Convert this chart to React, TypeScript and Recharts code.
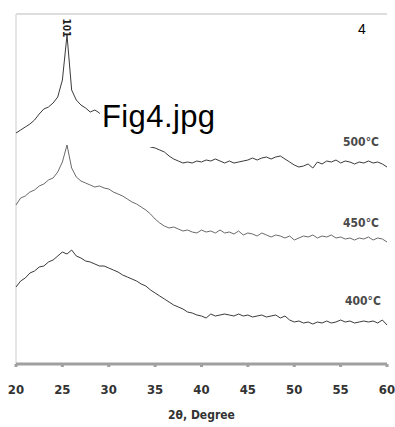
import React from "react";
import { LineChart, Line, XAxis, YAxis, ReferenceLine, ReferenceDot } from "recharts";

// 2θ positions, 20° to 60° in 0.5° steps
const twoTheta: number[] = [];
for (let i = 0; i <= 80; i++) twoTheta.push(20 + i * 0.5);

// intensities (a.u.)
const i500 = [
  231, 234, 237, 240, 244, 250, 255, 257, 261, 267,
  284, 329, 274, 264, 259, 256, 252, 254, 251, 246,
  242, 238, 234, 231, 228, 225, 223, 221, 219, 217,
  216, 214, 212, 208, 205, 203, 201, 202, 201, 203,
  202, 204, 203, 205, 203, 201, 203, 201, 202, 203,
  204, 206, 204, 206, 207, 205, 207, 208, 205, 202,
  199, 197, 198, 200, 196, 202, 200, 203, 202, 204,
  201, 203, 202, 200, 202, 201, 203, 201, 202, 200, 197,
];
const i450 = [
  159, 166, 168, 172, 174, 178, 180, 184, 186, 192,
  202, 219, 196, 187, 183, 181, 179, 177, 178, 176,
  175, 172, 170, 168, 165, 162, 160, 157, 154, 150,
  145, 141, 138, 136, 137, 135, 133, 134, 132, 131,
  134, 132, 133, 131, 134, 131, 132, 130, 133, 129,
  131, 130, 128, 131, 129, 127, 129, 128, 126, 128,
  124, 126, 128, 127, 129, 126, 128, 127, 129, 126,
  127, 125, 126, 124, 126, 125, 127, 124, 126, 125, 122,
];
const i400 = [
  77, 83, 86, 91, 93, 97, 98, 102, 104, 108,
  112, 110, 114, 108, 106, 103, 102, 100, 98, 98,
  96, 94, 92, 89, 87, 85, 83, 80, 78, 74,
  71, 68, 65, 62, 59, 57, 55, 52, 51, 49,
  48, 46, 50, 48, 49, 50, 49, 48, 50, 48,
  49, 47, 48, 49, 47, 48, 49, 46, 48, 44,
  42, 43, 41, 42, 40, 42, 41, 43, 41, 42,
  44, 42, 43, 41, 42, 43, 42, 43, 41, 44, 39,
];
const xTicks = [20, 25, 30, 35, 40, 45, 50, 55, 60];
const seriesLabels = ["500°C", "450°C", "400°C"];

const data = twoTheta.map((t, i) => ({ t, a: i500[i], b: i450[i], c: i400[i] }));

const tickFont = { fontFamily: "'DejaVu Sans Condensed', 'DejaVu Sans', sans-serif", fontWeight: 700 };

const TempLabel = (props: any) => {
  const { viewBox, value } = props;
  return (
    <text x={viewBox.x} y={viewBox.y} fontSize={12} fill="#4a4a4a" textAnchor="middle" style={tickFont}>
      {value}
    </text>
  );
};

const PeakLabel = (props: any) => {
  const { viewBox } = props;
  return (
    <text
      x={viewBox.x}
      y={viewBox.y}
      fontSize={10}
      fill="#222"
      textAnchor="middle"
      dominantBaseline="central"
      transform={`rotate(90 ${viewBox.x} ${viewBox.y})`}
      style={tickFont}
    >
      101
    </text>
  );
};

export default function App() {
  return (
    <div style={{ position: "absolute", left: 0, top: 0, width: 395, height: 427, background: "#fff" }}>
      <LineChart width={395} height={427} data={data} margin={{ top: 14, right: 8, left: 16, bottom: 0 }}>
        <XAxis
          dataKey="t"
          type="number"
          domain={[20, 60]}
          ticks={xTicks}
          height={63}
          stroke="#a0a0a0"
          strokeWidth={3}
          tickSize={3}
          tickMargin={18}
          tick={{ fill: "#333", fontSize: 13, ...tickFont }}
          label={{ value: "2θ, Degree", position: "insideBottom", offset: 8, fill: "#333", fontSize: 12, style: tickFont }}
        />
        <YAxis hide domain={[0, 350]} />
        <ReferenceLine x={20} stroke="#ccc" strokeWidth={1} />
        <ReferenceLine y={350} stroke="#ddd" strokeWidth={2} />
        <ReferenceLine x={60.3} stroke="#ddd" strokeWidth={1} strokeDasharray="2 2" />
        <Line dataKey="a" stroke="#3a3a3a" strokeWidth={1} dot={false} isAnimationActive={false} />
        <Line dataKey="b" stroke="#6a6a6a" strokeWidth={1} dot={false} isAnimationActive={false} />
        <Line dataKey="c" stroke="#3a3a3a" strokeWidth={1} dot={false} isAnimationActive={false} />
        <ReferenceDot x={57.2} y={218.5} r={0} label={<TempLabel value={seriesLabels[0]} />} />
        <ReferenceDot x={57.2} y={137.5} r={0} label={<TempLabel value={seriesLabels[1]} />} />
        <ReferenceDot x={57.4} y={59.5} r={0} label={<TempLabel value={seriesLabels[2]} />} />
        <ReferenceDot x={25.4} y={336} r={0} label={<PeakLabel />} />
      </LineChart>
      <div style={{ position: "absolute", left: 100, top: 100, width: 118, height: 47, background: "#fff" }} />
      <div
        style={{
          position: "absolute",
          left: 102,
          top: 101,
          fontFamily: "'Liberation Sans', Arial, sans-serif",
          fontSize: 31,
          lineHeight: 1,
          letterSpacing: 0.4,
          color: "#000",
        }}
      >
        Fig4.jpg
      </div>
      <div
        style={{
          position: "absolute",
          left: 358,
          top: 21,
          fontFamily: "'Liberation Sans', Arial, sans-serif",
          fontSize: 14,
          color: "#000",
        }}
      >
        4
      </div>
    </div>
  );
}
